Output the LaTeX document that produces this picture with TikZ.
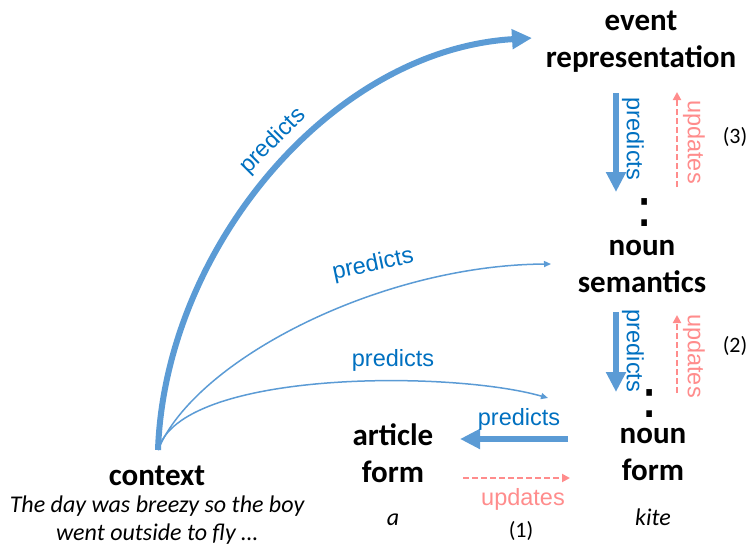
\documentclass[tikz,border=0pt]{standalone}
\usepackage{fontspec}
\setmainfont{Carlito}
\newfontfamily\arialfont{Liberation Sans}
\newfontfamily\dotfont{DejaVu Sans}
\usetikzlibrary{arrows.meta}
\definecolor{predB}{RGB}{91,155,213}
\definecolor{wordB}{RGB}{0,112,192}
\definecolor{updR}{RGB}{255,140,140}

\begin{document}
\begin{tikzpicture}[x=1pt,y=-1pt,
  level/.style={font=\fontsize{31}{37}\selectfont\bfseries,align=center,anchor=base,inner sep=0pt},
  word/.style={font=\fontsize{24}{28}\selectfont\itshape,align=center,anchor=base,inner sep=0pt},
  stepno/.style={font=\fontsize{22}{22}\selectfont,inner sep=0pt},
  vdots/.style={font=\dotfont\fontsize{54}{54}\selectfont,inner sep=0pt},
  plab/.style={font=\arialfont\fontsize{23.5}{24}\selectfont,text=wordB,inner sep=0pt},
  ulab/.style={font=\arialfont\fontsize{23.5}{24}\selectfont,text=updR,inner sep=0pt},
  bigpred/.style={draw=predB,line width=6pt,-{Triangle[length=20pt,width=19pt]}},
  thinpred/.style={draw=predB,line width=1.5pt,-{Triangle[length=7pt,width=6pt]}},
  upd/.style={draw=updR,line width=2pt,dash pattern=on 6pt off 3pt,-{Triangle[length=8pt,width=8pt]}}]
\useasboundingbox (0,0) rectangle (750,546);
% levels of representation (base = last line)
\node[level] (ev) at (641,67) {event\\representation};
\node[level] (ns) at (642,292) {noun\\semantics};
\node[level] (nf) at (653,480) {noun\\form};
\node[level] (af) at (393,482) {article\\form};
\node[level] (ctx) at (157,485) {context};
\node[word] (sent) at (157,540) {The day was breezy so the boy\\went outside to fly …};
\node[word] (kite) at (653,525) {kite};
\node[word] (art) at (393,525) {a};
\node[vdots] (d3) at (645,213) {:};
\node[vdots] (d2) at (650,404) {:};
\node[stepno] (s3) at (735,137) {(3)};
\node[stepno] (s2) at (735,346) {(2)};
\node[stepno] (s1) at (521,531) {(1)};
% ends of the connectors
\coordinate (src) at (158,450);
\coordinate (evIn) at (532,38);
\coordinate (nsIn) at (551,264);
\coordinate (nfIn) at (548,398);
\coordinate (p3a) at (616,93); \coordinate (p3b) at (616,192);
\coordinate (u3a) at (677,187); \coordinate (u3b) at (677,92);
\coordinate (p2a) at (616,312); \coordinate (p2b) at (616,392);
\coordinate (u2a) at (677,393); \coordinate (u2b) at (677,315);
\coordinate (p1a) at (568,439); \coordinate (p1b) at (460,439);
\coordinate (u1a) at (463,478); \coordinate (u1b) at (570,478);
% context predicts every level
\draw[bigpred] (src) .. controls (165,250) and (330,50) .. (evIn);
\draw[thinpred] (src) .. controls (195,360) and (380,265) .. (nsIn);
\draw[thinpred] (src) .. controls (180,370) and (450,370) .. (nfIn);
\node[plab,rotate=45] (pc3) at (273,141) {predicts};
\node[plab,rotate=12] (pc2) at (373,265) {predicts};
\node[plab] (pc1) at (393,360) {predicts};
% top-down and bottom-up steps
\draw[bigpred] (p3a) -- (p3b);
\draw[upd] (u3a) -- (u3b);
\node[plab,rotate=-90] (pl3) at (633,139) {predicts};
\node[ulab,rotate=-90] (ul3) at (694,142) {updates};
\draw[bigpred] (p2a) -- (p2b);
\draw[upd] (u2a) -- (u2b);
\node[plab,rotate=-90] (pl2) at (633,351) {predicts};
\node[ulab,rotate=-90] (ul2) at (694,356) {updates};
\draw[bigpred] (p1a) -- (p1b);
\draw[upd] (u1a) -- (u1b);
\node[plab] (pl1) at (519,419) {predicts};
\node[ulab] (ul1) at (523,499) {updates};
\end{tikzpicture}
\end{document}
